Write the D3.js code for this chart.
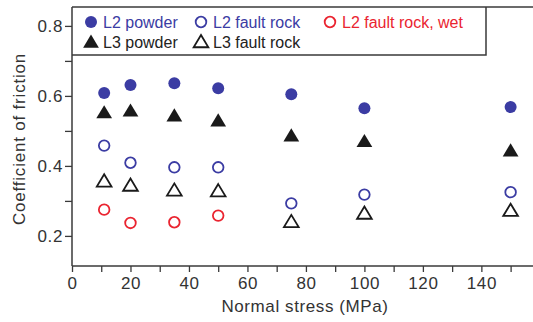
<!DOCTYPE html>
<html>
<head>
<meta charset="utf-8">
<script src="https://cdn.jsdelivr.net/npm/d3@7"></script>
<style>
  body { margin: 0; background: #fff; }
  text { font-family: "Liberation Sans", Arial, sans-serif; }
</style>
</head>
<body>
<div id="chart"></div>
<script>
// normal stress (MPa) at which each series was measured
const stress = [11, 20, 35, 50, 75, 100, 150];
const stressWet = [11, 20, 35, 50];

const l2Powder = [0.608, 0.631, 0.636, 0.622, 0.605, 0.565, 0.568];
const l3Powder = [0.552, 0.557, 0.543, 0.529, 0.486, 0.470, 0.443];
const l2FaultRock = [0.458, 0.409, 0.396, 0.396, 0.293, 0.318, 0.325];
const l3FaultRock = [0.356, 0.344, 0.330, 0.328, 0.240, 0.264, 0.272];
const l2FaultRockWet = [0.275, 0.237, 0.239, 0.258];

const xTicks = [0, 20, 40, 60, 80, 100, 120, 140];
const yTicks = [0.2, 0.4, 0.6, 0.8];

const width = 533;
const height = 322;
const axisColor = '#3a3a3a';
const blue = '#3b3ca3';
const red = '#ea2430';
const black = '#1a1a1a';

const series = [
    { name: 'L2 powder', x: stress, y: l2Powder, shape: 'circle', fill: true, color: blue, text: blue, col: 0, row: 0 },
    { name: 'L2 fault rock', x: stress, y: l2FaultRock, shape: 'circle', fill: false, color: blue, text: blue, col: 1, row: 0 },
    { name: 'L2 fault rock, wet', x: stressWet, y: l2FaultRockWet, shape: 'circle', fill: false, color: red, text: red, col: 2, row: 0 },
    { name: 'L3 powder', x: stress, y: l3Powder, shape: 'triangle', fill: true, color: black, text: '#222', col: 0, row: 1 },
    { name: 'L3 fault rock', x: stress, y: l3FaultRock, shape: 'triangle', fill: false, color: black, text: '#222', col: 1, row: 1 },
];

const x = d3.scaleLinear().domain([0, 158]).range([72, 534]);
const y = d3.scaleLinear().domain([0.114, 0.854]).range([266, 7]);

const svg = d3.select('#chart')
    .append('svg')
    .attr('width', width)
    .attr('height', height);

// marker drawing
function marker(g, s, size) {
    if (s.shape === 'circle') {
        g.append('circle')
            .attr('r', s.fill ? 6 : 5.3)
            .attr('fill', s.fill ? s.color : 'none')
            .attr('stroke', s.color)
            .attr('stroke-width', s.fill ? 0 : 1.8);
    } else {
        const h = s.fill ? 7.5 : 7;
        g.append('path')
            .attr('d', `M0,${-h}L${h * 1.05},${h * 0.75}L${-h * 1.05},${h * 0.75}Z`)
            .attr('fill', s.fill ? s.color : 'none')
            .attr('stroke', s.color)
            .attr('stroke-width', s.fill ? 0 : 1.8)
            .attr('stroke-linejoin', 'miter');
    }
}

// axes
const xAxis = svg.append('g')
    .attr('transform', `translate(0,${y.range()[0]})`)
    .call(d3.axisBottom(x).tickValues(d3.range(0, 151, 10)).tickSize(6).tickFormat(d => xTicks.includes(d) ? d : ''));
const yAxis = svg.append('g')
    .attr('transform', `translate(${x.range()[0]},0)`)
    .call(d3.axisLeft(y).tickValues([0.2, 0.3, 0.4, 0.5, 0.6, 0.7, 0.8]).tickSize(7)
        .tickFormat(d => yTicks.some(t => Math.abs(t - d) < 1e-9) ? d3.format('.1f')(d) : ''));

[xAxis, yAxis].forEach(a => {
    a.select('.domain').attr('stroke', axisColor).attr('stroke-width', 1.5);
    a.selectAll('.tick line').attr('stroke', axisColor).attr('stroke-width', 1.3);
    a.selectAll('.tick text')
        .attr('fill', '#333')
        .style('font-size', '17px')
        .style('letter-spacing', '0.6px')
        .style('font-family', '"Liberation Sans", Arial, sans-serif');
});
xAxis.selectAll('.tick text').attr('y', 11);
yAxis.selectAll('.tick text').attr('x', -9);
xAxis.select('.domain').attr('d', `M${x.range()[0]},0H${width}`);
yAxis.select('.domain').attr('d', `M0,${y.range()[0]}V${y.range()[1]}`);

// top frame line
svg.append('line')
    .attr('x1', x.range()[0]).attr('x2', width)
    .attr('y1', y.range()[1]).attr('y2', y.range()[1])
    .attr('stroke', axisColor).attr('stroke-width', 1.5);

// axis titles
svg.append('text')
    .attr('x', 305).attr('y', 312)
    .attr('text-anchor', 'middle')
    .attr('fill', '#333')
    .style('font-size', '17px')
    .style('letter-spacing', '0.6px')
    .text('Normal stress (MPa)');

svg.append('text')
    .attr('transform', 'translate(25,139) rotate(-90)')
    .attr('text-anchor', 'middle')
    .attr('fill', '#333')
    .style('font-size', '17px')
    .style('letter-spacing', '0.8px')
    .text('Coefficient of friction');

// data points
series.forEach(s => {
    const g = svg.append('g');
    s.y.forEach((v, i) => {
        const m = g.append('g').attr('transform', `translate(${x(s.x[i])},${y(v)})`);
        marker(m, s);
    });
});

// legend
const legend = svg.append('g');
legend.append('path')
    .attr('d', `M${x.range()[0]},55H486V${y.range()[1]}`)
    .attr('fill', 'none')
    .attr('stroke', axisColor)
    .attr('stroke-width', 1.5);
legend.insert('rect', ':first-child')
    .attr('x', x.range()[0] + 1).attr('y', y.range()[1] + 1)
    .attr('width', 486 - x.range()[0] - 1).attr('height', 55 - y.range()[1] - 1)
    .attr('fill', '#fff');

const colX = [91, 201, 330];
const rowY = [22, 42];
series.forEach(s => {
    const item = legend.append('g').attr('transform', `translate(${colX[s.col]},${rowY[s.row]})`);
    marker(item, s);
    item.append('text')
        .attr('x', 12)
        .attr('y', 6)
        .attr('fill', s.text)
        .style('font-size', '16px')
        .text(s.name);
});
</script>
</body>
</html>
